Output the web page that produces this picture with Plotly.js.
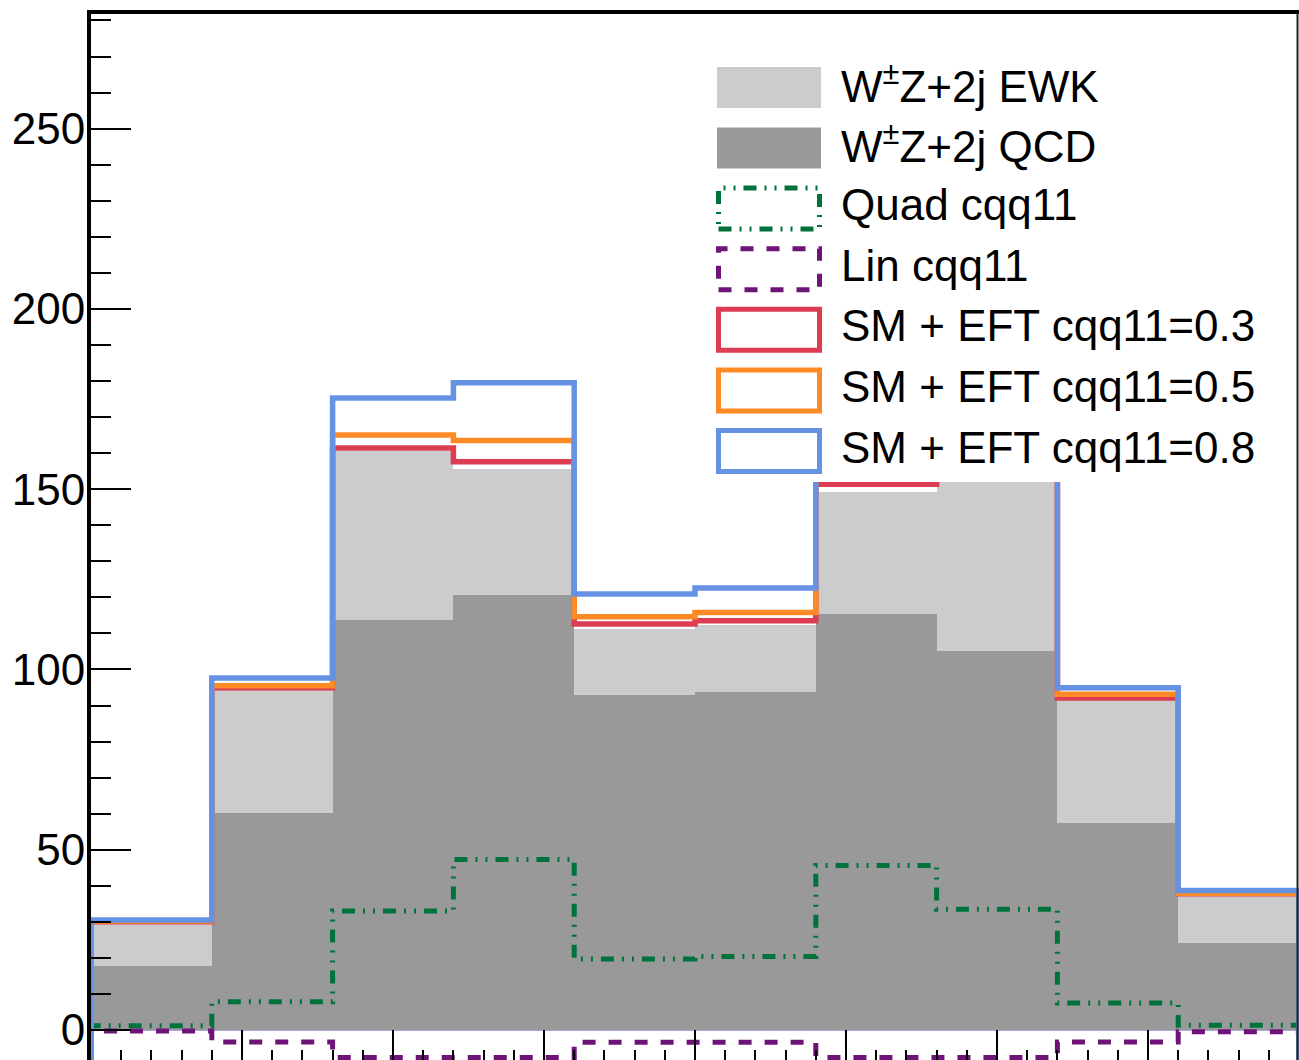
<!DOCTYPE html>
<html><head><meta charset="utf-8">
<script src="https://cdn.plot.ly/plotly-3.0.1.min.js"></script>
<style>html,body{margin:0;padding:0;overflow:hidden;background:#fff}#plot{width:1400px;height:1200px}</style>
</head><body><div id="plot"></div><script>
// ---- data ----
const binEdges = [0.0, 0.4, 0.8, 1.2, 1.6, 2.0, 2.4, 2.8, 3.2, 3.6, 4.0];
const qcd   = [17.8, 60.2, 113.7, 120.7, 92.9, 93.8, 115.4, 105.2, 57.4, 24.2];
const ewk   = [11.8, 34.1, 46.9, 34.9, 18.3, 18.5, 33.9, 48.8, 34.4, 13.4];
const quad  = [1.2, 7.8, 33.0, 47.3, 19.7, 20.4, 45.6, 33.5, 7.5, 1.3];
const lin   = [-0.3, -3.3, -7.6, -7.6, -3.4, -3.4, -7.6, -7.6, -3.3, -0.5];
const eft03 = [30.0, 94.9, 161.4, 157.6, 112.6, 113.5, 151.4, 154.8, 92.1, 37.8];
const eft05 = [30.2, 95.5, 165.0, 163.5, 114.6, 115.8, 156.9, 158.6, 93.1, 37.9];
const eft08 = [30.5, 97.6, 175.3, 179.5, 120.9, 122.6, 172.4, 169.3, 94.9, 38.7];
const legendLabels = ["W<sup>±</sup>Z+2j EWK", "W<sup>±</sup>Z+2j QCD", "Quad cqq11", "Lin cqq11",
                      "SM + EFT cqq11=0.3", "SM + EFT cqq11=0.5", "SM + EFT cqq11=0.8"];

// ---- styles ----
const C = {qcd:'#999999', ewk:'#cccccc', quad:'#00733c', lin:'#6e1479',
           e03:'#dc3d52', e05:'#fd8a25', e08:'#6692e6'};
const DASH_QUAD = '13px,8px,2px,8px,2px,8px';
const DASH_LIN = '13px,13px';
const Y_MIN = -11.1, Y_MAX = 281.8;
const W = 1400, H = 1200, L = 91, R = 101, T = 14, B = 130;
const PW = W - L - R, PH = H - T - B;
const px = x => (x - L) / PW;
const py = y => (H - B - y) / PH;
const FONT = 'Liberation Sans, Arial, Helvetica, sans-serif';

const centers = binEdges.slice(0, -1).map((e, i) => (e + binEdges[i + 1]) / 2);
const widths = binEdges.slice(0, -1).map((e, i) => binEdges[i + 1] - e);

function histLine(vals) {
  const xs = [binEdges[0]], ys = [Y_MIN];
  vals.forEach((v, i) => { xs.push(binEdges[i]); ys.push(v); });
  xs.push(binEdges[binEdges.length - 1]); ys.push(vals[vals.length - 1]);
  xs.push(binEdges[binEdges.length - 1]); ys.push(Y_MIN);
  return {xs, ys};
}
function lineTrace(vals, color, width, dash) {
  const h = histLine(vals);
  return {type:'scatter', mode:'lines', x:h.xs, y:h.ys, line:{shape:'hv', color, width, dash},
          hoverinfo:'skip', showlegend:false, cliponaxis:true};
}

const traces = [
  {type:'bar', x:centers, y:qcd, width:widths, marker:{color:C.qcd, line:{width:0}}, showlegend:false},
  {type:'bar', x:centers, y:ewk, width:widths, marker:{color:C.ewk, line:{width:0}}, showlegend:false},
  lineTrace(quad, C.quad, 5, DASH_QUAD),
  lineTrace(lin, C.lin, 5, DASH_LIN),
  lineTrace(eft03, C.e03, 5.5, 'solid'),
  lineTrace(eft05, C.e05, 5.5, 'solid'),
  lineTrace(eft08, C.e08, 5.5, 'solid'),
];

// ---- legend drawn as shapes + annotations ----
const shapes = [
  {type:'rect', xref:'paper', yref:'paper', x0:px(700), x1:px(1296), y0:py(482), y1:py(50),
   fillcolor:'#ffffff', line:{width:0}, layer:'above'},
  {type:'line', xref:'paper', yref:'paper', x0:px(1297.5), x1:px(1297.5), y0:0, y1:1,
   line:{color:'#222', width:2}, layer:'above'},
];
const annotations = [];
const legendStyles = [
  {fill:C.ewk}, {fill:C.qcd},
  {line:C.quad, dash:DASH_QUAD}, {line:C.lin, dash:DASH_LIN},
  {line:C.e03, dash:'solid'}, {line:C.e05, dash:'solid'}, {line:C.e08, dash:'solid'}
];
legendLabels.forEach((lab, i) => {
  const cy = 87.4 + 60.6 * i;
  const st = legendStyles[i];
  if (st.fill) {
    shapes.push({type:'rect', xref:'paper', yref:'paper', x0:px(717), x1:px(821), y0:py(cy + 20.5), y1:py(cy - 20.5),
                 fillcolor:st.fill, line:{width:0}, layer:'above'});
  } else {
    shapes.push({type:'rect', xref:'paper', yref:'paper', x0:px(718.5), x1:px(819.5), y0:py(cy + 20.5), y1:py(cy - 20.5),
                 fillcolor:'rgba(0,0,0,0)', line:{color:st.line, width:5, dash:st.dash}, layer:'above'});
  }
  annotations.push({xref:'paper', yref:'paper', x:px(839), y:py(cy - 4), xanchor:'left', yanchor:'middle',
                    text:lab, showarrow:false, font:{family:FONT, size:44, color:'#000'}});
});

const layout = {
  width:W, height:H, margin:{l:L, r:R, t:T, b:B, pad:0},
  paper_bgcolor:'#fff', plot_bgcolor:'#fff', barmode:'stack', bargap:0, showlegend:false,
  font:{family:FONT, size:44, color:'#000'},
  xaxis:{range:[binEdges[0], binEdges[binEdges.length - 1]], showgrid:false, zeroline:false,
         showline:true, linecolor:'#000', linewidth:4, mirror:true,
         ticks:'inside', ticklen:40, tickwidth:2, tickcolor:'#000', dtick:0.5, tick0:0,
         minor:{ticks:'inside', ticklen:20, tickwidth:2, tickcolor:'#000', dtick:0.1, showgrid:false},
         showticklabels:false},
  yaxis:{range:[Y_MIN, Y_MAX], showgrid:false, zeroline:true, zerolinecolor:'#a8a8e6', zerolinewidth:2,
         showline:true, linecolor:'#000', linewidth:4,
         ticks:'inside', ticklen:40, tickwidth:2, tickcolor:'#000', dtick:50, tick0:0,
         minor:{ticks:'inside', ticklen:20, tickwidth:2, tickcolor:'#000', dtick:10, showgrid:false},
         ticklabelstandoff:-7, tickfont:{size:44}},
  shapes, annotations
};
Plotly.newPlot('plot', traces, layout, {staticPlot:true, displayModeBar:false});
</script></body></html>
